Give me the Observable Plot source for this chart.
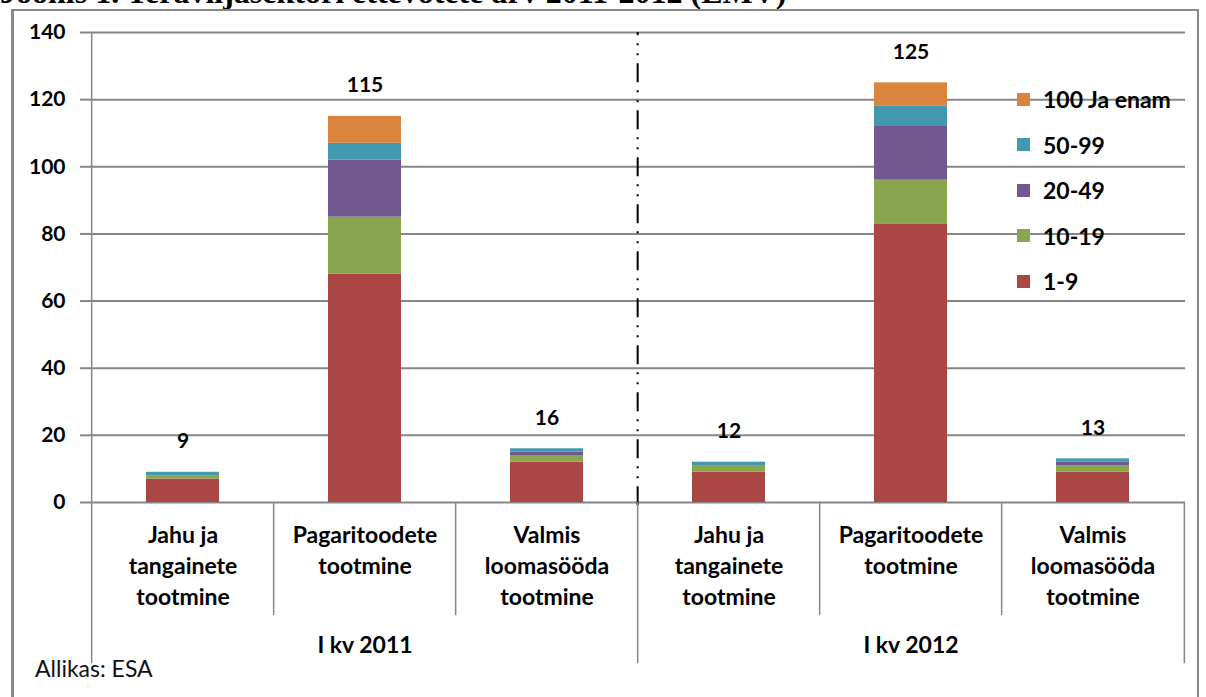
<!DOCTYPE html>
<html>
<head>
<meta charset="utf-8">
<script src="https://cdn.jsdelivr.net/npm/d3@7"></script>
<script src="https://cdn.jsdelivr.net/npm/@observablehq/plot@0.6"></script>
<style>
  html, body { margin: 0; padding: 0; background: #fff; }
  #wrap { position: relative; width: 1206px; height: 697px; overflow: hidden; font-family: Lato, "DejaVu Sans", sans-serif; }
  #title { position: absolute; left: 0px; top: -24px; line-height: 32px; font-family: "Liberation Serif", serif; font-weight: bold; font-size: 32px; white-space: nowrap; color: #000; }
  #frame { position: absolute; left: 11px; top: 9px; width: 1183px; height: 720px; border-left: 3px solid #888; border-top: 2px solid #888; border-right: 2px solid #888; background: transparent; }
  #chart { position: absolute; left: 0; top: 0; }
  #legend { position: absolute; left: 1017px; top: 86px; }
  .li { position: absolute; left: 0; height: 26px; display: flex; align-items: center; white-space: nowrap; font-weight: bold; font-size: 23px; color: #000; }
  .sw { width: 13px; height: 13px; margin-right: 13px; flex: none; }
  #caption { position: absolute; left: 35px; top: 654px; font-size: 23px; color: #111; }
</style>
</head>
<body>
<div id="wrap">
  <div id="title">Joonis 1. Teraviljasektori ettevõtete arv 2011-2012 (EMV)</div>
  <div id="frame"></div>
  <div id="chart"></div>
  <div id="legend"></div>
  <div id="caption">Allikas: ESA</div>
</div>
<script>
// ---- data ----
const groups = ["I kv 2011", "I kv 2012"];
const categories = ["Jahu ja\ntangainete\ntootmine", "Pagaritoodete\ntootmine", "Valmis\nloomasööda\ntootmine"];
const sizeClasses = ["1-9", "10-19", "20-49", "50-99", "100 Ja enam"];
const colors = ["#AA4643", "#89A54E", "#71588F", "#4198AF", "#DB843D"];
// values per bar, order: 2011 Jahu, Pagari, Valmis, 2012 Jahu, Pagari, Valmis
const s1_9   = [7, 68, 12, 9, 83, 9];
const s10_19 = [1, 17, 2, 2, 13, 2];
const s20_49 = [0, 17, 1, 0, 16, 1];
const s50_99 = [1, 5, 1, 1, 6, 1];
const s100   = [0, 8, 0, 0, 7, 0];
const totals = [9, 115, 16, 12, 125, 13];
const yTicks = [0, 20, 40, 60, 80, 100, 120, 140];

// ---- build table ----
const keys = groups.flatMap(g => categories.map(c => g + "|" + c));
const series = [s1_9, s10_19, s20_49, s50_99, s100];
const rows = [];
series.forEach((arr, si) => arr.forEach((v, i) => rows.push({key: keys[i], cls: sizeClasses[si], value: v})));
const totalRows = totals.map((t, i) => ({key: keys[i], total: t}));

const W = 1206, H = 697, mL = 89, mR = 21, mT = 32, mB = 195;
const step = (W - mL - mR) / keys.length;
const gridColor = "#868686";

const chart = Plot.plot({
  width: W, height: H,
  marginLeft: mL, marginRight: mR, marginTop: mT, marginBottom: mB,
  style: {fontFamily: "Lato, sans-serif", fontSize: "20px", fontWeight: "bold", color: "#000", background: "transparent", overflow: "visible"},
  x: {type: "band", domain: keys, paddingInner: 0.6, paddingOuter: 0.3},
  y: {domain: [0, 140]},
  color: {domain: sizeClasses, range: colors},
  marks: [
    Plot.gridY(yTicks, {stroke: gridColor, strokeWidth: 2, strokeOpacity: 1}),
    Plot.axisY(yTicks, {tickSize: 9, tickPadding: 15, stroke: gridColor, strokeWidth: 2, fontSize: 21, fontWeight: "bold", label: null}),
    Plot.barY(rows, {x: "key", y: "value", fill: "cls", order: sizeClasses}),
    Plot.text(totalRows, {x: "key", y: "total", text: d => String(d.total), dy: -31, fontSize: 21, fontWeight: "bold"}),
    Plot.axisX({tickSize: 0, tickPadding: 18, tickFormat: k => k.split("|")[1], lineHeight: 1.36, lineAnchor: "top", fontSize: 23, fontWeight: "bold", label: null}),
    // dash-dot separator between years
    Plot.ruleX([keys[3]], {x: d => d, dx: -step / 2, y1: -1, y2: 140, stroke: "#000", strokeWidth: 2, strokeDasharray: "19,8,2,8,2,8"}),
    // category dividers below axis
    Plot.ruleX([keys[1], keys[2], keys[4], keys[5]], {x: d => d, dx: -step / 2, y1: 0, y2: -33.7, stroke: gridColor, strokeWidth: 1.5}),
    // group dividers below axis (and y-axis line)
    Plot.ruleX([keys[0]], {x: d => d, dx: -step / 2, y1: -48, y2: 140, stroke: gridColor, strokeWidth: 1.5}),
    Plot.ruleX([keys[3]], {x: d => d, dx: -step / 2, y1: -48, y2: 0, stroke: gridColor, strokeWidth: 1.5}),
    Plot.ruleX([keys[5]], {x: d => d, dx: step / 2, y1: -48, y2: 0, stroke: gridColor, strokeWidth: 1.5}),
    // group labels
    Plot.text(groups, {x: (g, i) => keys[i * 3 + 1], frameAnchor: "bottom", dy: 150, text: d => d, fontSize: 23, fontWeight: "bold"})
  ]
});
document.getElementById("chart").appendChild(chart);

// legend (top item = last series)
const legend = document.getElementById("legend");
const order = sizeClasses.map((c, i) => i).reverse();
order.forEach((si, j) => {
  const d = document.createElement("div");
  d.className = "li";
  d.style.top = (j * 45.5) + "px";
  d.innerHTML = `<span class="sw" style="background:${colors[si]}"></span><span>${sizeClasses[si]}</span>`;
  legend.appendChild(d);
});
</script>
</body>
</html>
